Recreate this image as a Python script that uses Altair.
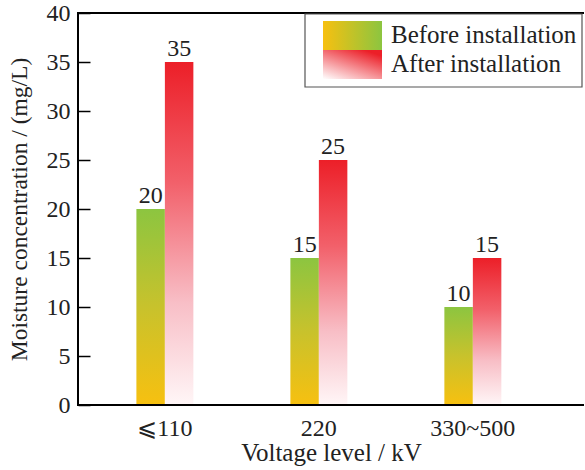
import altair as alt
import pandas as pd

categories = ["⩽110", "220", "330~500"]
before_values = [20, 15, 10]
after_values = [35, 25, 15]
series_names = ["Before installation", "After installation"]
y_ticks = [0, 5, 10, 15, 20, 25, 30, 35, 40]

rows = []
for c, b, a in zip(categories, before_values, after_values):
    rows.append({"level": c, "series": series_names[0], "value": b})
    rows.append({"level": c, "series": series_names[1], "value": a})
df = pd.DataFrame(rows)

FONT = "Liberation Serif"
FS = 24

x_enc = alt.X(
    "level:N",
    sort=categories,
    scale=alt.Scale(paddingInner=0.63, paddingOuter=0.458, align=0.414),
    axis=alt.Axis(
        title="Voltage level / kV",
        labelAngle=0,
        ticks=False,
        tickSize=0,
        domain=False,
        labelPadding=11,
        titlePadding=0,
        labelFont=FONT,
        titleFont=FONT,
        labelFontSize=FS,
        titleFontSize=25,
        titleFontWeight="normal",
        labelColor="#222",
        titleColor="#222",
    ),
)
xoff = alt.XOffset("series:N", sort=series_names,
                   scale=alt.Scale(domain=series_names, paddingInner=0, paddingOuter=0))
y_enc = alt.Y(
    "value:Q",
    scale=alt.Scale(domain=[0, 40], nice=False),
    axis=alt.Axis(
        title="Moisture concentration / (mg/L)",
        values=y_ticks,
        grid=False,
        domain=False,
        tickSize=12,
        tickWidth=1.5,
        tickColor="black",
        offset=-12,
        labelPadding=8,
        titlePadding=15,
        labelFont=FONT,
        titleFont=FONT,
        labelFontSize=FS,
        titleFontSize=23.5,
        titleFontWeight="normal",
        labelColor="#222",
        titleColor="#222",
    ),
)

grad_before = alt.Gradient(
    gradient="linear", x1=0, y1=0, x2=0, y2=1,
    stops=[alt.GradientStop(offset=0, color="#8cc540"),
           alt.GradientStop(offset=0.5, color="#c8c22c"),
           alt.GradientStop(offset=1, color="#f7c010")],
)
grad_after = alt.Gradient(
    gradient="linear", x1=0, y1=0, x2=0, y2=1,
    stops=[alt.GradientStop(offset=0, color="#ec1f28"),
           alt.GradientStop(offset=0.35, color="#f2606a"),
           alt.GradientStop(offset=0.7, color="#f8bec6"),
           alt.GradientStop(offset=1, color="#fff6f7")],
)

base = alt.Chart(df)
bars_before = base.transform_filter(alt.datum.series == series_names[0]).mark_bar(
    color=grad_before).encode(x=x_enc, xOffset=xoff, y=y_enc)
bars_after = base.transform_filter(alt.datum.series == series_names[1]).mark_bar(
    color=grad_after).encode(x=x_enc, xOffset=xoff, y=y_enc)
labels = base.mark_text(
    font=FONT, fontSize=FS, baseline="bottom", dy=-1, color="#222"
).encode(x=x_enc, xOffset=xoff, y=y_enc, text="value:Q")

one = alt.Data(values=[{"k": 1}])
rule_top = alt.Chart(one).mark_rule(color="black", strokeWidth=2).encode(
    x=alt.value(-1), x2=alt.value(507), y=alt.value(0), y2=alt.value(0))
rule_bottom = alt.Chart(one).mark_rule(color="black", strokeWidth=2).encode(
    x=alt.value(-1), x2=alt.value(507), y=alt.value(392), y2=alt.value(392))
rule_left = alt.Chart(one).mark_rule(color="black", strokeWidth=2).encode(
    x=alt.value(0), x2=alt.value(0), y=alt.value(0), y2=alt.value(392))
legend_box = alt.Chart(one).mark_rect(
    fill="white", stroke="#555", strokeWidth=1.2
).encode(x=alt.value(227), x2=alt.value(504), y=alt.value(1), y2=alt.value(74))
leg_grad_before = alt.Gradient(
    gradient="linear", x1=0, y1=0, x2=1, y2=0,
    stops=[alt.GradientStop(offset=0, color="#f7c010"),
           alt.GradientStop(offset=1, color="#8cc540")],
)
leg_grad_after = alt.Gradient(
    gradient="linear", x1=0, y1=1, x2=0.7, y2=0,
    stops=[alt.GradientStop(offset=0, color="#ffffff"),
           alt.GradientStop(offset=1, color="#ec1f28")],
)
leg_sym1 = alt.Chart(one).mark_rect(color=leg_grad_before).encode(
    x=alt.value(245), x2=alt.value(304), y=alt.value(8), y2=alt.value(37))
leg_sym2 = alt.Chart(one).mark_rect(color=leg_grad_after).encode(
    x=alt.value(245), x2=alt.value(304), y=alt.value(37), y2=alt.value(66))
leg_txt1 = alt.Chart(one).mark_text(
    text=series_names[0], font=FONT, fontSize=25, align="left", baseline="middle", color="#222"
).encode(x=alt.value(313), y=alt.value(22))
leg_txt2 = alt.Chart(one).mark_text(
    text=series_names[1], font=FONT, fontSize=25, align="left", baseline="middle", color="#222"
).encode(x=alt.value(313), y=alt.value(51))

chart = alt.layer(
    bars_before, bars_after, labels, rule_top, rule_bottom, rule_left,
    legend_box, leg_sym1, leg_sym2, leg_txt1, leg_txt2,
).properties(
    width=506, height=392,
    autosize=alt.AutoSizeParams(type="none"),
    padding={"left": 78, "top": 13, "right": 0, "bottom": 65},
    background="white",
).configure_view(strokeWidth=0, stroke="transparent")

chart.save("out.html", embed_options={"renderer": "svg", "actions": False})
